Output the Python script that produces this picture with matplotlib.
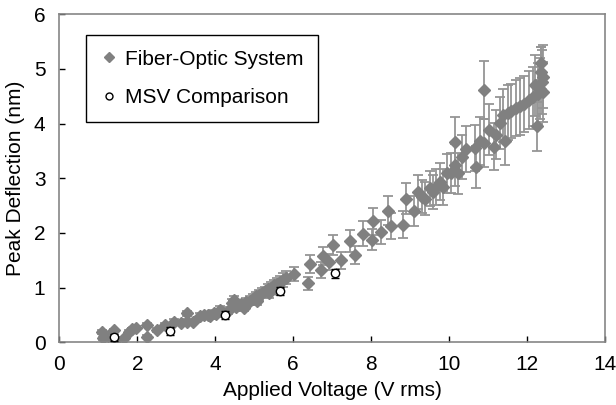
import matplotlib
matplotlib.use("Agg")
import matplotlib.pyplot as plt
from matplotlib.lines import Line2D

plt.rcParams["font.family"] = ["Liberation Sans", "DejaVu Sans"]

# fibre-optic measurements: applied voltage (V rms), peak deflection (nm), error (nm)
fiber_voltage = [
    1.10, 1.12, 1.26, 1.41, 1.46, 1.65, 1.79, 1.87, 1.97, 2.24,
    2.25, 2.51, 2.72, 2.93, 3.12, 3.27, 3.27, 3.44, 3.62, 3.70,
    3.82, 3.87, 3.96, 4.03, 4.13, 4.18, 4.33, 4.43, 4.47, 4.53,
    4.58, 4.65, 4.73, 4.78, 4.88, 4.98, 5.05, 5.08, 5.13, 5.21,
    5.28, 5.35, 5.38, 5.43, 5.51, 5.55, 5.58, 5.65, 5.73, 5.81,
    6.01, 6.39, 6.42, 6.71, 6.76, 6.92, 7.03, 7.22, 7.45, 7.59,
    7.79, 8.02, 8.06, 8.25, 8.42, 8.50, 8.82, 8.90, 9.11, 9.20,
    9.30, 9.38, 9.50, 9.58, 9.67, 9.77, 9.85, 9.94, 10.04, 10.16,
    10.16, 10.22, 10.33, 10.44, 10.67, 10.69, 10.78, 10.89, 10.90, 11.03,
    11.15, 11.20, 11.31, 11.39, 11.43, 11.52, 11.60, 11.72, 11.83, 11.91,
    12.04, 12.16, 12.21, 12.25, 12.29, 12.33, 12.35, 12.35, 12.38, 12.40,
    12.42,
]
fiber_deflection = [
    0.19, 0.07, 0.12, 0.22, 0.05, 0.07, 0.19, 0.24, 0.26, 0.10,
    0.32, 0.22, 0.32, 0.38, 0.35, 0.53, 0.38, 0.37, 0.48, 0.50,
    0.50, 0.49, 0.54, 0.52, 0.60, 0.55, 0.58, 0.72, 0.77, 0.64,
    0.68, 0.70, 0.63, 0.74, 0.76, 0.80, 0.84, 0.76, 0.87, 0.90,
    0.93, 0.97, 0.90, 1.00, 1.04, 0.98, 1.07, 1.10, 1.14, 1.18,
    1.25, 1.08, 1.43, 1.32, 1.58, 1.47, 1.78, 1.50, 1.86, 1.60,
    1.99, 1.88, 2.21, 2.01, 2.41, 2.13, 2.15, 2.63, 2.40, 2.75,
    2.66, 2.63, 2.82, 2.75, 2.84, 2.94, 2.84, 3.09, 3.10, 3.24,
    3.67, 3.09, 3.39, 3.53, 3.55, 3.21, 3.68, 3.64, 4.61, 3.89,
    3.58, 3.80, 4.01, 4.15, 3.68, 4.20, 4.23, 4.28, 4.32, 4.36,
    4.43, 4.49, 4.70, 3.95, 4.55, 4.64, 5.10, 4.95, 4.76, 4.86,
    4.58,
]
fiber_error = [
    0.03, 0.03, 0.03, 0.03, 0.03, 0.03, 0.03, 0.03, 0.03, 0.03,
    0.04, 0.04, 0.04, 0.04, 0.04, 0.05, 0.04, 0.04, 0.05, 0.05,
    0.05, 0.05, 0.05, 0.05, 0.06, 0.05, 0.06, 0.07, 0.07, 0.06,
    0.07, 0.07, 0.06, 0.07, 0.08, 0.08, 0.08, 0.08, 0.09, 0.09,
    0.09, 0.10, 0.09, 0.10, 0.10, 0.10, 0.11, 0.11, 0.12, 0.12,
    0.13, 0.12, 0.16, 0.14, 0.17, 0.15, 0.19, 0.16, 0.20, 0.17,
    0.22, 0.20, 0.25, 0.22, 0.27, 0.24, 0.25, 0.29, 0.27, 0.31,
    0.30, 0.30, 0.32, 0.31, 0.33, 0.34, 0.33, 0.36, 0.36, 0.38,
    0.45, 0.37, 0.40, 0.42, 0.42, 0.38, 0.44, 0.44, 0.53, 0.46,
    0.43, 0.45, 0.47, 0.49, 0.44, 0.50, 0.50, 0.51, 0.52, 0.52,
    0.53, 0.54, 0.56, 0.45, 0.55, 0.56, 0.30, 0.45, 0.58, 0.58,
    0.55,
]

# MSV comparison points
msv_voltage = [1.41, 2.83, 4.24, 5.66, 7.07]
msv_deflection = [0.09, 0.21, 0.50, 0.94, 1.26]
msv_error = [0.07, 0.07, 0.07, 0.08, 0.09]

gray = "#808080"
bar_gray = "#959595"

fig = plt.figure(figsize=(6.16, 4.05), dpi=100)
ax = fig.add_axes([0.0963, 0.1548, 0.8859, 0.8099])

ax.errorbar(
    fiber_voltage,
    fiber_deflection,
    yerr=fiber_error,
    fmt="D",
    color=gray,
    markersize=6.5,
    ecolor=bar_gray,
    elinewidth=1.3,
    capsize=3.5,
    capthick=1.3,
    zorder=2,
)

ax.errorbar(
    msv_voltage,
    msv_deflection,
    yerr=msv_error,
    fmt="o",
    markerfacecolor="white",
    markeredgecolor="black",
    markeredgewidth=1.0,
    markersize=6,
    ecolor="black",
    elinewidth=1.0,
    capsize=3,
    capthick=1.0,
    zorder=3,
)

ax.set_xlim(0, 14)
ax.set_ylim(0, 6)
ax.set_xticks(range(0, 15, 2))
ax.set_yticks(range(0, 7))

for spine in ax.spines.values():
    spine.set_color("#868686")
    spine.set_linewidth(1.2)

ax.tick_params(
    direction="in",
    length=4,
    width=1,
    color="black",
    labelsize=15,
    pad=9,
)
ax.tick_params(axis="y", pad=10)

ax.set_xlabel("Applied Voltage (V rms)", fontsize=15, labelpad=5)
ax.set_ylabel("Peak Deflection (nm)", fontsize=15, labelpad=6)

handles = [
    Line2D([], [], linestyle="none", marker="D", color=gray, markersize=5),
    Line2D([], [], linestyle="none", marker="o", markerfacecolor="white",
           markeredgecolor="black", markersize=5),
]
legend = ax.legend(
    handles,
    ["Fiber-Optic System", "MSV Comparison"],
    loc="upper left",
    bbox_to_anchor=(0.049, 0.937),
    borderaxespad=0,
    fontsize=15,
    fancybox=False,
    edgecolor="black",
    framealpha=1,
    labelspacing=0.95,
    handlelength=0.8,
    handletextpad=0.35,
    borderpad=0.7,
)
legend.get_frame().set_linewidth(1.0)

fig.savefig("out.png", dpi=100)
